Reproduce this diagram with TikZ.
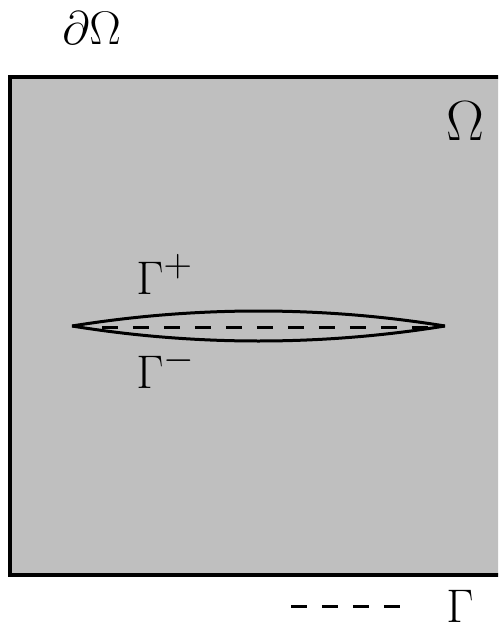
\documentclass[tikz,border=0pt]{standalone}
\begin{document}
\begin{tikzpicture}[x=0.02cm,y=-0.02cm,
  lbl/.style={inner sep=0pt,anchor=base west,font=\Huge,scale=1.08},
  biglbl/.style={lbl,scale=1.2},
  crack/.style={line width=0.06cm},
  gdash/.style={line width=0.06cm,dash pattern=on 0.32cm off 0.30cm}]
\useasboundingbox (0,0) rectangle (498,625);
\clip (0,0) rectangle (498,625);
\fill[white] (0,0) rectangle (498,625);
\draw[line width=0.08cm,fill={rgb,255:red,191;green,191;blue,191}] (10,77) rectangle (520,575);
\coordinate (L) at (72,326);
\coordinate (R) at (445,326);
\draw[crack] (L) .. controls (196,306) and (321,306) .. (R);
\draw[crack] (L) .. controls (196,346) and (321,346) .. (R);
\coordinate (dA) at (102,327);
\coordinate (dB) at (430,327);
\draw[gdash] (dA) -- (dB);
\node[lbl] (dO) at (62,45) {$\partial\Omega$};
\node[biglbl] (O) at (446,140) {$\Omega$};
\node[lbl] (Gp) at (136,294) {$\Gamma^{+}$};
\node[lbl] (Gm) at (136,388) {$\Gamma^{-}$};
\coordinate (lA) at (291,606);
\coordinate (lB) at (400,606);
\draw[gdash] (lA) -- (lB);
\node[lbl] (G) at (446,622) {$\Gamma$};
\end{tikzpicture}
\end{document}
